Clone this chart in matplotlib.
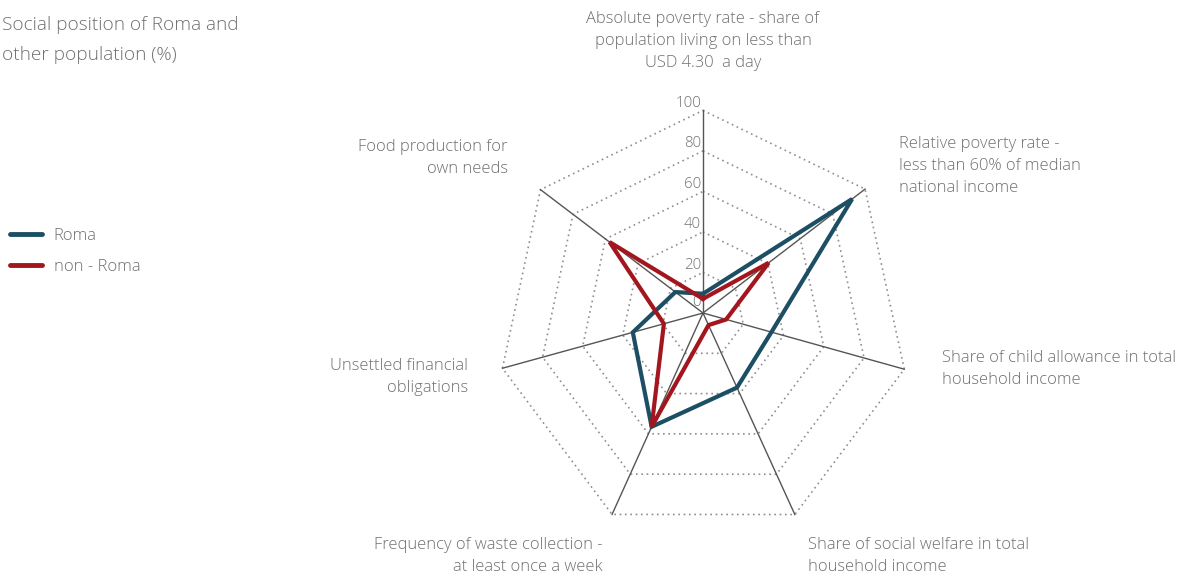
import numpy as np
import matplotlib
matplotlib.use("Agg")
import matplotlib.pyplot as plt
from matplotlib.lines import Line2D

plt.rcParams['font.family'] = ['Open Sans', 'DejaVu Sans']

# Indicators (clockwise from the top)
categories = [
    "Absolute poverty rate - share of\npopulation living on less than\nUSD 4.30  a day",
    "Relative poverty rate -\nless than 60% of median\nnational income",
    "Share of child allowance in total\nhousehold income",
    "Share of social welfare in total\nhousehold income",
    "Frequency of waste collection -\nat least once a week",
    "Unsettled financial\nobligations",
    "Food production for\nown needs",
]
roma = [9.5, 92, 34, 37, 56.5, 35, 17]
non_roma = [7, 40.5, 11.5, 6, 56.5, 19.5, 57.5]
series_names = ["Roma", "non - Roma"]
tick_values = [0, 20, 40, 60, 80, 100]

BLUE = "#1c4f63"
RED = "#a3161e"
TEXT = "#707070"

W, H = 1188, 573
cx, cy = 703, 313

# spoke directions (degrees clockwise from north) and spoke lengths (px)
spoke_angle = np.deg2rad([0, 52.6, 105.6, 155.5, 204.3, 254.6, 307.2])
spoke_len = np.array([202.6, 204, 209, 221.5, 221, 208, 204])
ux = np.sin(spoke_angle) * spoke_len / 100.0
uy = np.cos(spoke_angle) * spoke_len / 100.0


def to_xy(values):
    v = np.asarray(values, dtype=float)
    x = v * ux
    y = v * uy
    return np.append(x, x[0]), np.append(y, y[0])


fig = plt.figure(figsize=(W / 100, H / 100), dpi=100)
ax = fig.add_axes([0, 0, 1, 1])
ax.set_xlim(-cx, W - cx)
ax.set_ylim(-(H - cy), cy)
ax.axis("off")

n = len(categories)

# dotted grid rings
for level in tick_values[1:]:
    gx, gy = to_xy([level] * n)
    ax.plot(gx, gy, color="#8f8f8f", lw=1.2, ls=(0, (1, 2.2)), zorder=1)

# spokes
for i in range(n):
    ax.plot([0, 100 * ux[i]], [0, 100 * uy[i]], color="#555555",
            lw=1.0, zorder=2)

# radial tick labels along the top spoke
for v in tick_values:
    ax.text(-2, v * uy[0] + (11 if v == 0 else 7), str(v), ha="right",
            va="center", fontsize=10.8, color=TEXT, fontweight="light",
            zorder=3)

# data series
for vals, color in [(roma, BLUE), (non_roma, RED)]:
    px, py = to_xy(vals)
    ax.plot(px, py, color=color, lw=3.0, solid_joinstyle="miter", zorder=4)

# category labels (pixel positions from the top-left corner)
label_pos = [
    (703, 41, "center"),
    (899, 166, "left"),
    (942, 369, "left"),
    (808, 556, "left"),
    (603, 556, "right"),
    (468, 377, "right"),
    (508, 158, "right"),
]
for text, (x, y, ha) in zip(categories, label_pos):
    ax.text(x - cx, cy - y, text, ha=ha, va="center", fontsize=11.9,
            color=TEXT, fontweight="light", linespacing=1.5,
            multialignment=ha)

# subtitle
ax.text(2 - cx, cy - 40, "Social position of Roma and\nother population (%)",
        ha="left", va="center", fontsize=13.7, color=TEXT,
        fontweight="light", linespacing=1.9)

# legend
handles = [Line2D([], [], color=BLUE, lw=3.5, solid_capstyle="round"),
           Line2D([], [], color=RED, lw=3.5, solid_capstyle="round")]
leg = fig.legend(handles=handles, labels=series_names, loc="upper left",
                 bbox_to_anchor=(10 / W, 1 - 228 / H), frameon=False,
                 fontsize=12, handlelength=1.9, handletextpad=0.72,
                 labelspacing=0.9, borderpad=0, borderaxespad=0)
for t in leg.get_texts():
    t.set_color(TEXT)
    t.set_fontweight("light")

fig.savefig("out.png", dpi=100)
